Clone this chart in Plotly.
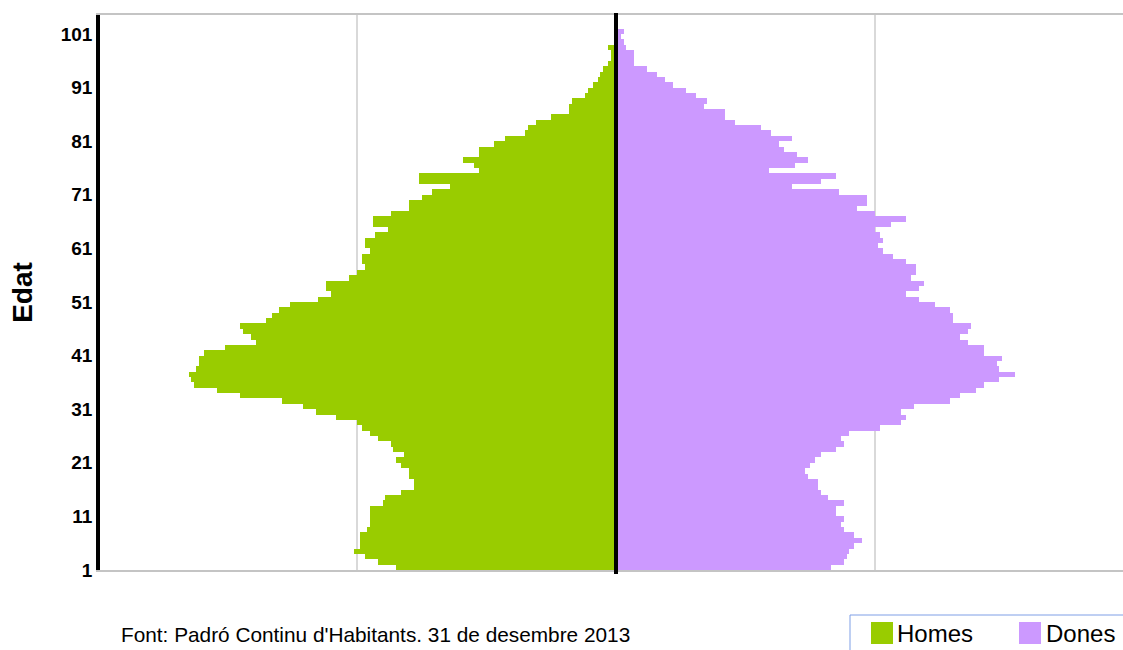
import plotly.graph_objects as go

# ---- data ----
ages = list(range(1, 103))
homes = [85, 92, 97, 101, 99, 99, 99, 96, 95, 95,
         95, 95, 90, 89, 83, 78, 78, 80, 80, 83,
         85, 82, 86, 87, 92, 95, 98, 100, 108, 116,
         121, 129, 145, 154, 163, 164, 165, 162, 161, 161,
         159, 151, 139, 141, 144, 145, 135, 133, 130, 126,
         115, 110, 112, 112, 103, 100, 97, 98, 98, 95,
         97, 97, 93, 88, 94, 94, 87, 80, 80, 75,
         71, 64, 76, 76, 53, 55, 59, 53, 53, 47,
         43, 35, 34, 31, 25, 18, 18, 17, 12, 11,
         9, 7, 6, 5, 3, 2, 2, 3, 0, 0,
         0, 0]
dones = [83, 88, 89, 90, 92, 95, 92, 88, 87, 88,
         85, 85, 88, 82, 79, 78, 78, 74, 73, 75,
         77, 79, 85, 88, 87, 90, 102, 110, 112, 110,
         115, 129, 133, 139, 142, 148, 154, 148, 147, 149,
         142, 142, 136, 133, 136, 137, 130, 130, 129, 123,
         117, 112, 117, 119, 114, 116, 116, 112, 107, 103,
         101, 103, 102, 100, 106, 112, 100, 93, 97, 97,
         86, 68, 79, 85, 59, 69, 74, 70, 65, 63,
         68, 60, 56, 46, 42, 42, 34, 35, 31, 27,
         22, 19, 16, 12, 7, 7, 7, 4, 3, 2,
         3, 0]
tick_vals = [1, 11, 21, 31, 41, 51, 61, 71, 81, 91, 101]
tick_text = [str(v) for v in tick_vals]
grid_vals = [-100, 100]
series_names = ["Homes", "Dones"]
source_text = "Font: Padró Continu d'Habitants. 31 de desembre 2013"

# ---- layout geometry ----
W, H = 1123, 650
ML, MR, MT, MB = 100, 0, 15, 80
PW = W - ML - MR
PH = H - MT - MB
PX_PER_AGE = 5.36
PX_PER_UNIT = 2.59
CENTER_PX = 616

def px_x(p):
    return (p - ML) / PW

def px_y(p):
    return (H - MB - p) / PH

FONT = "Arial, Liberation Sans, sans-serif"
GREEN = "#99cc00"
PURPLE = "#cc99ff"

ycent = [a + 0.5 for a in ages]

fig = go.Figure()
fig.add_trace(go.Bar(
    y=ycent, x=[-v for v in homes], orientation="h", width=1,
    name=series_names[0], marker=dict(color=GREEN, line=dict(width=0)),
    showlegend=False,
))
fig.add_trace(go.Bar(
    y=ycent, x=dones, orientation="h", width=1,
    name=series_names[1], marker=dict(color=PURPLE, line=dict(width=0)),
    showlegend=False,
))

x_left = -(CENTER_PX - ML) / PX_PER_UNIT
x_right = (W - MR - CENTER_PX) / PX_PER_UNIT

fig.update_layout(
    width=W, height=H,
    margin=dict(l=ML, r=MR, t=MT, b=MB, autoexpand=False),
    paper_bgcolor="white", plot_bgcolor="white",
    barmode="overlay", bargap=0,
    font=dict(family=FONT, color="black"),
    xaxis=dict(
        range=[x_left, x_right], tickvals=grid_vals, showticklabels=False,
        ticks="", showgrid=True, gridcolor="#d9d9d9", gridwidth=2,
        zeroline=False, showline=True, mirror=True,
        linecolor="#c4c4c4", linewidth=2, fixedrange=True,
    ),
    yaxis=dict(
        range=[1, 1 + PH / PX_PER_AGE], tickvals=tick_vals, ticktext=tick_text,
        ticks="", showgrid=False, zeroline=False, showline=True,
        linecolor="black", linewidth=3.5,
        tickfont=dict(size=19, family=FONT, color="black", weight="bold"),
        title=dict(text="Edat", font=dict(size=28, family=FONT, color="black", weight="bold"),
                   standoff=21),
        fixedrange=True,
    ),
    showlegend=False,
)

# centre axis line (drawn above the bars)
fig.add_shape(type="line", xref="x", yref="paper", x0=0, x1=0,
              y0=px_y(574), y1=px_y(13), line=dict(color="black", width=4),
              layer="above")

# legend box (manual, to match the reference look)
fig.add_shape(type="rect", xref="paper", yref="paper",
              x0=px_x(850), x1=px_x(1140), y0=px_y(665), y1=px_y(615),
              line=dict(color="#7f9fe6", width=1), fillcolor="white", layer="above")
for name, col, sq_x, tx in [(series_names[0], GREEN, 871, 895),
                             (series_names[1], PURPLE, 1019, 1044)]:
    fig.add_shape(type="rect", xref="paper", yref="paper",
                  x0=px_x(sq_x), x1=px_x(sq_x + 22), y0=px_y(644), y1=px_y(622),
                  line=dict(width=0), fillcolor=col, layer="above")
    fig.add_annotation(text=name, xref="paper", yref="paper",
                       x=px_x(tx), y=px_y(633), xanchor="left", yanchor="middle",
                       showarrow=False, font=dict(size=24, family=FONT, color="black"))

fig.add_annotation(text=source_text, xref="paper", yref="paper",
                   x=px_x(119), y=px_y(634), xanchor="left", yanchor="middle",
                   showarrow=False, font=dict(size=20.8, family=FONT, color="black"))

fig.write_html(
    "out.html",
    config={"displayModeBar": False},
    post_script="document.body.style.margin='0';document.body.style.padding='0';",
)
